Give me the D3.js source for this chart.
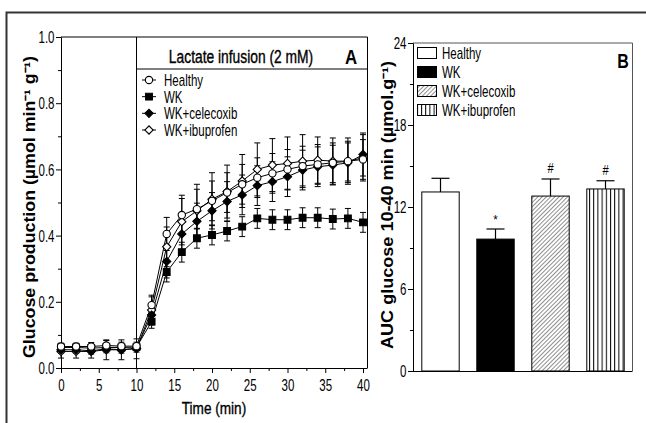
<!DOCTYPE html>
<html><head><meta charset="utf-8">
<script src="https://cdn.jsdelivr.net/npm/d3@7"></script>
<style>body{margin:0;background:#fff} svg{display:block}</style>
</head><body><svg id="c" width="646" height="423"></svg>
<script>
// ---------- DATA ----------
const times = [0,2,4,6,8,10,12,14,16,18,20,22,24,26,28,30,32,34,36,38,40];
const seriesNames = ["Healthy","WK","WK+celecoxib","WK+ibuprofen"];
const healthy    = [0.065,0.065,0.065,0.068,0.066,0.066,0.19,0.405,0.462,0.48,0.505,0.53,0.555,0.575,0.588,0.60,0.61,0.615,0.62,0.625,0.63];
const healthyErr = [0.01,0.01,0.012,0.015,0.012,0.012,0.03,0.05,0.06,0.06,0.06,0.06,0.06,0.06,0.06,0.06,0.06,0.06,0.06,0.06,0.06];
const wk         = [0.062,0.062,0.06,0.062,0.062,0.063,0.14,0.29,0.35,0.392,0.402,0.414,0.427,0.452,0.448,0.448,0.454,0.454,0.45,0.452,0.44];
const wkErr      = [0.01,0.01,0.01,0.01,0.01,0.01,0.02,0.03,0.03,0.03,0.03,0.03,0.03,0.03,0.03,0.03,0.03,0.03,0.03,0.03,0.03];
const celecoxib  = [0.055,0.055,0.052,0.058,0.055,0.06,0.16,0.322,0.405,0.443,0.475,0.503,0.523,0.551,0.563,0.578,0.598,0.608,0.613,0.62,0.645];
const celecoxibErr=[0.01,0.01,0.01,0.012,0.01,0.012,0.03,0.05,0.05,0.055,0.055,0.06,0.06,0.06,0.06,0.06,0.06,0.06,0.06,0.06,0.065];
const ibuprofen  = [0.05,0.05,0.05,0.055,0.055,0.058,0.175,0.366,0.442,0.475,0.51,0.533,0.565,0.60,0.613,0.618,0.625,0.628,0.625,0.625,0.635];
const ibuprofenErr=[0.02,0.02,0.02,0.03,0.03,0.03,0.04,0.06,0.07,0.08,0.08,0.08,0.08,0.08,0.08,0.08,0.08,0.07,0.07,0.07,0.07];
const xTicksA = [0,5,10,15,20,25,30,35,40];
const yTicksA = [0,0.2,0.4,0.6,0.8,1.0];
const infusionStart = 10;

const barCategories = ["Healthy","WK","WK+celecoxib","WK+ibuprofen"];
const barValues = [13.1, 9.65, 12.8, 13.32];
const barErrors = [1.0, 0.74, 1.25, 0.6];
const barMarks  = ["", "*", "#", "#"];
const yTicksB = [0,6,12,18,24];

// ---------- SETUP ----------
const svg = d3.select("#c");
const SANS = "'Liberation Sans',Arial,sans-serif";
const NS = 0.72; // narrow scale to mimic Arial Narrow

function ntext(g, x, y, str, size, opts={}){
  const t = g.append("text").attr("transform",`translate(${x},${y}) scale(${opts.sx||NS},1)`)
    .attr("font-family",SANS).attr("font-size",size).attr("fill","#000").text(str);
  if(opts.anchor) t.attr("text-anchor",opts.anchor);
  if(opts.bold) t.attr("font-weight","bold");
  if(opts.heavy) t.attr("stroke","#000").attr("stroke-width",0.35);
  return t;
}

// outer frame
svg.append("path").attr("d","M6.5,423 V12.5 H646").attr("fill","none").attr("stroke","#333").attr("stroke-width",2);

// ---------- PANEL A ----------
const xA = d3.scaleLinear().domain([0,40]).range([61,363]);
const yA = d3.scaleLinear().domain([0,1]).range([368,37]);
const gA = svg.append("g");

gA.append("path").attr("d",`M61,${yA(1)} H367.5 V368`).attr("fill","none").attr("stroke","#000").attr("stroke-width",1);
gA.append("line").attr("x1",xA(infusionStart)).attr("x2",xA(infusionStart)).attr("y1",yA(1)).attr("y2",368).attr("stroke","#000");
gA.append("line").attr("x1",xA(infusionStart)).attr("x2",367.5).attr("y1",69).attr("y2",69).attr("stroke","#000");
ntext(gA, 241, 63, "Lactate infusion (2 mM)", 17.5, {anchor:"middle", sx:0.79, heavy:true});
ntext(gA, 351, 64, "A", 21, {anchor:"middle", bold:true, sx:0.8});

const axAy = gA.append("g").attr("transform","translate(61,0)")
  .call(d3.axisLeft(yA).tickValues(yTicksA).tickFormat(d3.format(".1f")).tickSize(5));
gA.append("g").attr("transform","translate(61,0)")
  .call(d3.axisLeft(yA).tickValues([0.1,0.3,0.5,0.7,0.9]).tickFormat("").tickSize(3)).select(".domain").remove();
const axAx = gA.append("g").attr("transform","translate(0,368)")
  .call(d3.axisBottom(xA).tickValues(xTicksA).tickSize(5));
axAx.select(".domain").attr("d","M61,0.5H367.5");
gA.append("g").attr("transform","translate(0,368)")
  .call(d3.axisBottom(xA).tickValues([2.5,7.5,12.5,17.5,22.5,27.5,32.5,37.5]).tickFormat("").tickSize(3)).select(".domain").remove();
[axAy, axAx].forEach(a=>a.selectAll("text").attr("font-family",SANS).attr("font-size",16).attr("fill","#000").attr("transform",`scale(${NS},1)`));
axAy.selectAll("text").attr("x",-9).attr("dy","0.36em");
axAx.selectAll("text").attr("y",23).attr("dy",null);

gA.append("text").attr("transform","translate(35,207) rotate(-90)").attr("text-anchor","middle")
  .attr("font-family",SANS).attr("font-weight","bold").attr("font-size",16)
  .attr("textLength",302).attr("lengthAdjust","spacingAndGlyphs")
  .text("Glucose production (\u00b5mol min\u207b\u00b9 g\u207b\u00b9)");
ntext(gA, 214, 414, "Time (min)", 17, {anchor:"middle", sx:0.8, heavy:true});

const series = [
  {name:"WK+ibuprofen", v:ibuprofen, e:ibuprofenErr, sym:"diamond", fill:"#fff"},
  {name:"WK+celecoxib", v:celecoxib, e:celecoxibErr, sym:"diamond", fill:"#000"},
  {name:"WK", v:wk, e:wkErr, sym:"square", fill:"#000"},
  {name:"Healthy", v:healthy, e:healthyErr, sym:"circle", fill:"#fff"}
];
function symPath(s){
  if(s==="circle") return d3.symbol(d3.symbolCircle, 42)();
  return d3.symbol(d3.symbolSquare, s==="square"?46:34)();
}
function symRot(s){ return s==="diamond" ? " rotate(45)" : ""; }

series.forEach(s=>{
  const g = gA.append("g").attr("stroke","#000").attr("stroke-width",1);
  times.forEach((t,i)=>{
    const x = xA(t), y1 = yA(s.v[i]+s.e[i]), y2 = yA(s.v[i]-s.e[i]);
    g.append("line").attr("x1",x).attr("x2",x).attr("y1",y1).attr("y2",y2);
    g.append("line").attr("x1",x-3).attr("x2",x+3).attr("y1",y1).attr("y2",y1);
    g.append("line").attr("x1",x-3).attr("x2",x+3).attr("y1",y2).attr("y2",y2);
  });
});
const lineGen = d3.line().x((d,i)=>xA(times[i])).y(d=>yA(d));
series.forEach(s=>{
  gA.append("path").attr("d",lineGen(s.v)).attr("fill","none").attr("stroke","#000").attr("stroke-width",1);
});
series.forEach(s=>{
  gA.append("g").selectAll("path").data(s.v).join("path")
    .attr("d",symPath(s.sym))
    .attr("transform",(d,i)=>`translate(${xA(times[i])},${yA(d)})${symRot(s.sym)}`)
    .attr("fill",s.fill).attr("stroke","#000").attr("stroke-width",1.1);
});
const legA = [
  {name:"Healthy", sym:"circle", fill:"#fff"},
  {name:"WK", sym:"square", fill:"#000"},
  {name:"WK+celecoxib", sym:"diamond", fill:"#000"},
  {name:"WK+ibuprofen", sym:"diamond", fill:"#fff"}
];
const legAy = d3.scalePoint().domain(seriesNames).range([80,130]);
legA.forEach(l=>{
  const y = legAy(l.name);
  gA.append("line").attr("x1",142).attr("x2",156).attr("y1",y).attr("y2",y).attr("stroke","#000");
  gA.append("path").attr("d",symPath(l.sym)).attr("transform",`translate(149,${y})${symRot(l.sym)}`)
    .attr("fill",l.fill).attr("stroke","#000").attr("stroke-width",1.1);
  ntext(gA, 164, y+6, l.name, 16);
});

// ---------- PANEL B ----------
const xB = d3.scaleBand().domain(barCategories).range([413,633]).paddingInner(0.32).paddingOuter(0.16);
const yB = d3.scaleLinear().domain([0,24]).range([371,43]);
const gB = svg.append("g");
const defs = svg.append("defs");
const hatch = defs.append("pattern").attr("id","hatch").attr("patternUnits","userSpaceOnUse").attr("width",3).attr("height",3).attr("patternTransform","rotate(45)");
hatch.append("rect").attr("width",3).attr("height",3).attr("fill","#fff");
hatch.append("line").attr("x1",0).attr("x2",0).attr("y1",0).attr("y2",3).attr("stroke","#444").attr("stroke-width",1.2);
const vert = defs.append("pattern").attr("id","vert").attr("patternUnits","userSpaceOnUse").attr("width",4.2).attr("height",4).attr("x",1);
vert.append("rect").attr("width",4.2).attr("height",4).attr("fill","#fff");
vert.append("line").attr("x1",0.5).attr("x2",0.5).attr("y1",0).attr("y2",4).attr("stroke","#000").attr("stroke-width",1);
const barFills = ["#fff","#000","url(#hatch)","url(#vert)"];

gB.append("path").attr("d",`M413,${yB(24)} H632.5 V371`).attr("fill","none").attr("stroke","#555").attr("stroke-width",1);

barCategories.forEach((c,i)=>{
  const x = xB(c)+xB.bandwidth()/2, yt = yB(barValues[i]+barErrors[i]);
  gB.append("line").attr("x1",x).attr("x2",x).attr("y1",yt).attr("y2",yB(barValues[i])).attr("stroke","#000").attr("stroke-width",1.2);
  gB.append("line").attr("x1",x-9).attr("x2",x+9).attr("y1",yt).attr("y2",yt).attr("stroke","#000").attr("stroke-width",1.2);
  if(barMarks[i]==="*") ntext(gB, x, yt-5, "*", 13, {anchor:"middle", sx:0.9});
  else if(barMarks[i]) ntext(gB, x, yt-6, barMarks[i], 14, {anchor:"middle", sx:0.8});
});
gB.selectAll("rect.bar").data(barCategories).join("rect").attr("class","bar")
  .attr("x",d=>xB(d)).attr("width",xB.bandwidth())
  .attr("y",(d,i)=>yB(barValues[i])).attr("height",(d,i)=>yB(0)-yB(barValues[i]))
  .attr("fill",(d,i)=>barFills[i]).attr("stroke","#000").attr("stroke-width",1);

const axBy = gB.append("g").attr("transform","translate(413,0)")
  .call(d3.axisLeft(yB).tickValues(yTicksB).tickSize(5));
gB.append("g").attr("transform","translate(413,0)")
  .call(d3.axisLeft(yB).tickValues([3,9,15,21]).tickFormat("").tickSize(3)).select(".domain").remove();
axBy.selectAll("text").attr("font-family",SANS).attr("font-size",16).attr("fill","#000").attr("transform",`scale(${NS},1)`).attr("x",-9).attr("dy","0.36em");
gB.append("line").attr("x1",413).attr("x2",632.5).attr("y1",371.5).attr("y2",371.5).attr("stroke","#000");

gB.append("text").attr("transform","translate(393,205) rotate(-90)").attr("text-anchor","middle")
  .attr("font-family",SANS).attr("font-weight","bold").attr("font-size",16)
  .attr("textLength",288).attr("lengthAdjust","spacingAndGlyphs")
  .text("AUC glucose 10-40 min (\u00b5mol.g\u207b\u00b9)");
ntext(gB, 623, 68, "B", 20, {anchor:"middle", bold:true, sx:0.8});

const legBy = d3.scalePoint().domain(barCategories).range([53,110]);
barCategories.forEach((c,i)=>{
  const y = legBy(c);
  gB.append("rect").attr("x",417.5).attr("y",y-5.5).attr("width",19).attr("height",11)
    .attr("fill",barFills[i]).attr("stroke","#000").attr("stroke-width",1);
  ntext(gB, 442, y+6, c, 16);
});
</script></body></html>
